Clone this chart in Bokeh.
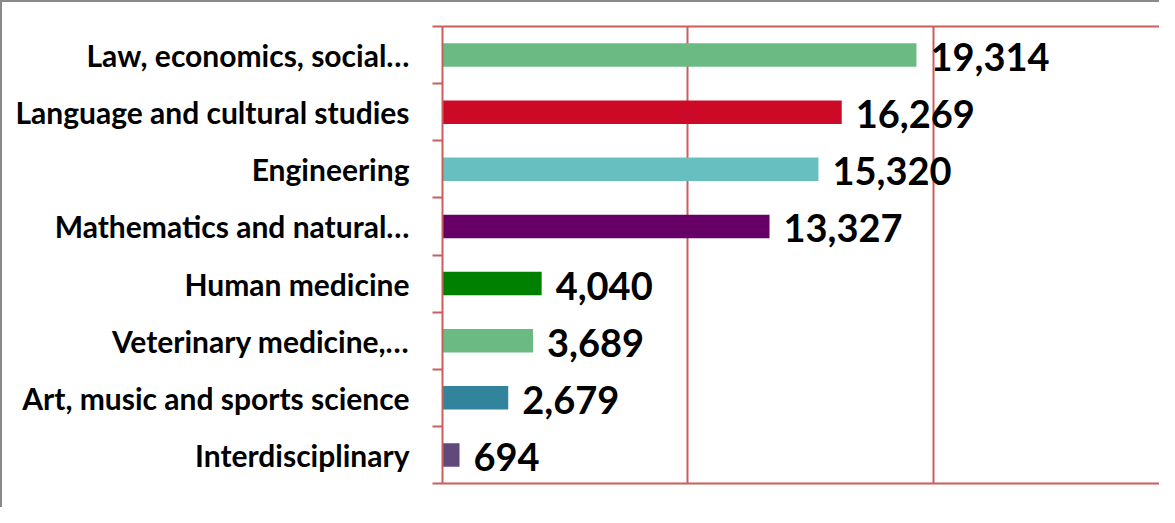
from bokeh.plotting import figure
from bokeh.models import Range1d, FixedTicker, LinearAxis, ColumnDataSource
from bokeh.core.properties import value
from bokeh.embed import file_html
from bokeh.resources import INLINE

categories = [
    "Law, economics, social\u2026",
    "Language and cultural studies",
    "Engineering",
    "Mathematics and natural\u2026",
    "Human medicine",
    "Veterinary medicine,\u2026",
    "Art, music and sports science",
    "Interdisciplinary",
]
values = [19314, 16269, 15320, 13327, 4040, 3689, 2679, 694]
colors = ["#6BBA83", "#CC0A28", "#67BFBF", "#660066", "#008000", "#6BBA83", "#31849B", "#604A7B"]

n = len(categories)
ypos = [n - 1 - i for i in range(n)]
labels = [f"{v:,}" for v in values]

src = ColumnDataSource(dict(y=ypos, v=values, c=colors, lab=labels))

RED = "#CD5C5C"

p = figure(width=1159, height=507, output_backend="svg", toolbar_location=None,
           x_range=Range1d(0, 29300), y_range=Range1d(-0.5, n - 0.5),
           min_border_left=440, min_border_top=24, min_border_right=0, min_border_bottom=26,
           outline_line_color=None, background_fill_color="white", border_fill_color="white",
           styles={"border-left": "2px solid #8a8a8a", "border-top": "2px solid #8a8a8a"})

p.hbar(y="y", left=0, right="v", height=0.41, fill_color="c", line_color=None, source=src)
p.text(x="v", y="y", text="lab", x_offset=14, y_offset=2, text_baseline="middle", text_align="left",
       text_font=value("Lato"), text_font_style="bold", text_font_size="38px", text_color="black",
       source=src)

# y axis
p.yaxis.ticker = FixedTicker(ticks=ypos, minor_ticks=[k - 0.5 for k in range(n + 1)])
p.yaxis.major_label_overrides = {y: c for y, c in zip(ypos, categories)}
p.yaxis.major_tick_line_color = None
p.yaxis.major_tick_out = 0
p.yaxis.major_tick_in = 0
p.yaxis.minor_tick_line_color = RED
p.yaxis.minor_tick_line_width = 2
p.yaxis.minor_tick_out = 10
p.yaxis.minor_tick_in = 0
p.yaxis.axis_line_color = RED
p.yaxis.axis_line_width = 2
p.yaxis.major_label_standoff = 23
p.yaxis.major_label_text_font = "Lato"
p.yaxis.major_label_text_font_style = "bold"
p.yaxis.major_label_text_font_size = "30px"
p.yaxis.major_label_text_color = "black"

# x axis (line only)
p.xaxis.ticker = FixedTicker(ticks=[])
p.xaxis.major_label_text_font_size = "0px"
p.xaxis.major_tick_line_color = None
p.xaxis.minor_tick_line_color = None
p.xaxis.axis_line_color = RED
p.xaxis.axis_line_width = 2

top = LinearAxis(ticker=FixedTicker(ticks=[]), major_label_text_font_size="0px",
                 major_tick_line_color=None, minor_tick_line_color=None,
                 axis_line_color=RED, axis_line_width=2)
p.add_layout(top, "above")

p.xgrid.ticker = FixedTicker(ticks=[10000, 20000])
p.xgrid.grid_line_color = RED
p.xgrid.grid_line_width = 2
p.ygrid.grid_line_color = None

open("out.html", "w").write(file_html(p, INLINE))
